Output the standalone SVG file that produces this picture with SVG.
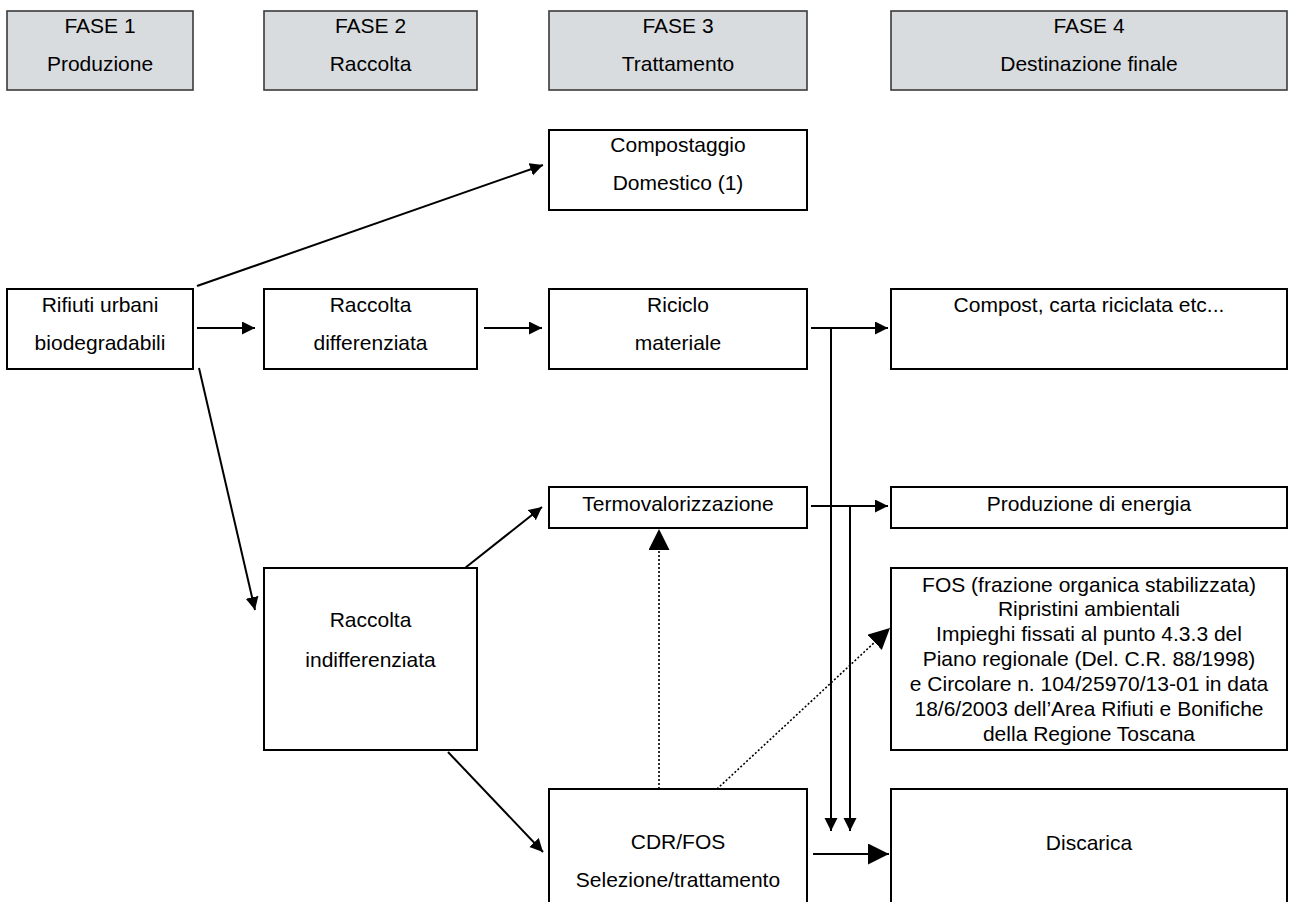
<svg xmlns="http://www.w3.org/2000/svg" width="1289" height="902" viewBox="0 0 1289 902">
<defs>
<style>
text{font-family:"Liberation Sans",Arial,sans-serif;font-size:21px;fill:#000;text-anchor:middle}
.hdr{fill:#d9dcdf;stroke:#3a3a3a;stroke-width:1.6}
.box{fill:#fff;stroke:#000;stroke-width:2}
.ln{fill:none;stroke:#000;stroke-width:2}
.dot{fill:none;stroke:#000;stroke-width:1.6;stroke-dasharray:2 2}
</style>
<marker id="sm" markerUnits="userSpaceOnUse" markerWidth="14" markerHeight="14" refX="13" refY="6.5" orient="auto"><path d="M0,0 L13,6.5 L0,13 z" fill="#000"/></marker>
<marker id="lg" markerUnits="userSpaceOnUse" markerWidth="22" markerHeight="22" refX="21" refY="10.5" orient="auto"><path d="M0,0 L21,10.5 L0,21 z" fill="#000"/></marker>
</defs>
<rect width="1289" height="902" fill="#fff"/>

<g id="fase1"><rect class="hdr" x="7" y="11" width="186" height="79"/><text x="100" y="33">FASE 1</text><text x="100" y="71">Produzione</text></g>
<g id="fase2"><rect class="hdr" x="264" y="11" width="213" height="79"/><text x="370.5" y="33">FASE 2</text><text x="370.5" y="71">Raccolta</text></g>
<g id="fase3"><rect class="hdr" x="549" y="11" width="258" height="79"/><text x="678" y="33">FASE 3</text><text x="678" y="71">Trattamento</text></g>
<g id="fase4"><rect class="hdr" x="891" y="11" width="396" height="79"/><text x="1089" y="33">FASE 4</text><text x="1089" y="71">Destinazione finale</text></g>

<g id="compostaggio"><rect class="box" x="549" y="130" width="258" height="80"/><text x="678" y="152">Compostaggio</text><text x="678" y="190">Domestico (1)</text></g>
<g id="rifiuti"><rect class="box" x="7" y="289" width="186" height="80"/><text x="100" y="312">Rifiuti urbani</text><text x="100" y="350">biodegradabili</text></g>
<g id="raccolta-diff"><rect class="box" x="264" y="289" width="213" height="80"/><text x="370.5" y="312">Raccolta</text><text x="370.5" y="350">differenziata</text></g>
<g id="riciclo"><rect class="box" x="549" y="289" width="258" height="80"/><text x="678" y="312">Riciclo</text><text x="678" y="350">materiale</text></g>
<g id="compost"><rect class="box" x="891" y="289" width="396" height="80"/><text x="1089" y="312">Compost, carta riciclata etc...</text></g>
<g id="termo"><rect class="box" x="549" y="487" width="258" height="41"/><text x="678" y="511">Termovalorizzazione</text></g>
<g id="energia"><rect class="box" x="891" y="487" width="396" height="41"/><text x="1089" y="511">Produzione di energia</text></g>
<g id="raccolta-indiff"><rect class="box" x="264" y="568" width="213" height="182"/><text x="370.5" y="627">Raccolta</text><text x="370.5" y="667">indifferenziata</text></g>
<g id="fos"><rect class="box" x="891" y="568" width="396" height="182"/>
<text x="1089" y="592">FOS (frazione organica stabilizzata)</text>
<text x="1089" y="616">Ripristini ambientali</text>
<text x="1089" y="641">Impieghi fissati al punto 4.3.3 del</text>
<text x="1089" y="666">Piano regionale (Del. C.R. 88/1998)</text>
<text x="1089" y="691">e Circolare n. 104/25970/13-01 in data</text>
<text x="1089" y="716">18/6/2003 dell’Area Rifiuti e Bonifiche</text>
<text x="1089" y="741">della Regione Toscana</text></g>
<g id="cdr"><rect class="box" x="549" y="789" width="258" height="125"/><text x="678" y="849">CDR/FOS</text><text x="678" y="887">Selezione/trattamento</text></g>
<g id="discarica"><rect class="box" x="891" y="789" width="396" height="125"/><text x="1089" y="850">Discarica</text></g>

<g id="connectors">
<line class="ln" x1="197" y1="286" x2="543" y2="165" marker-end="url(#sm)"/>
<line class="ln" x1="197" y1="328" x2="255" y2="328" marker-end="url(#sm)"/>
<line class="ln" x1="484" y1="328" x2="542" y2="328" marker-end="url(#sm)"/>
<line class="ln" x1="199" y1="368" x2="255" y2="610" marker-end="url(#sm)"/>
<line class="ln" x1="811" y1="328" x2="888" y2="328" marker-end="url(#sm)"/>
<line class="ln" x1="831" y1="328" x2="831" y2="831" marker-end="url(#sm)"/>
<line class="ln" x1="811" y1="506" x2="888" y2="506" marker-end="url(#sm)"/>
<line class="ln" x1="850" y1="506" x2="850" y2="831" marker-end="url(#sm)"/>
<line class="ln" x1="465" y1="568" x2="542" y2="507" marker-end="url(#sm)"/>
<line class="ln" x1="448" y1="752" x2="543" y2="852" marker-end="url(#sm)"/>
<line class="dot" x1="659" y1="789" x2="659" y2="529" marker-end="url(#lg)"/>
<line class="dot" x1="717" y1="789" x2="890" y2="628" marker-end="url(#lg)"/>
<line class="ln" x1="813" y1="854" x2="889" y2="854" marker-end="url(#lg)"/>
</g>
</svg>
